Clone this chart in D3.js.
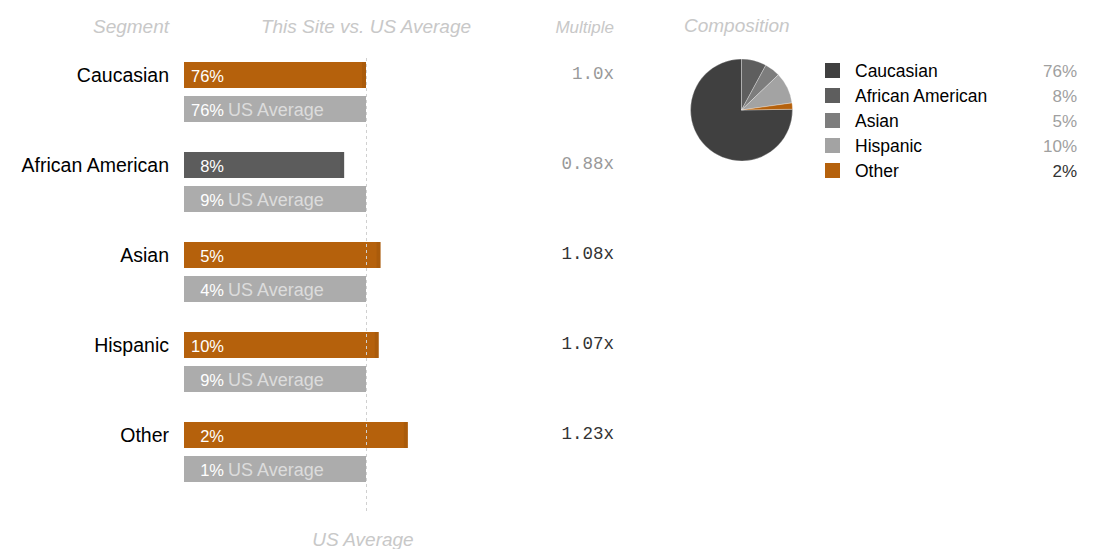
<!DOCTYPE html>
<html><head><meta charset="utf-8">
<script src="https://cdn.jsdelivr.net/npm/d3@7/dist/d3.min.js"></script>
<style>body{margin:0;background:#fff;} svg{display:block;font-family:"Liberation Sans",Arial,sans-serif;}</style>
</head><body>
<script>
const categories = ["Caucasian","African American","Asian","Hispanic","Other"];
const siteShare = [76, 8, 5, 10, 2];
const usShare = [76, 9, 4, 9, 1];
const multiples = [1.0, 0.88, 1.08, 1.07, 1.23];
const multipleLabels = ["1.0x","0.88x","1.08x","1.07x","1.23x"];
const pieColors = ["#404040","#5e5e5e","#7d7d7d","#a3a3a3","#b5610c"];

const W = 1096, H = 549;
const svg = d3.select("body").append("svg").attr("width", W).attr("height", H);

const x = d3.scaleLinear().domain([0, 1]).range([184, 366]);
const y = d3.scaleBand().domain(categories).range([50, 500]);

const hdr = "#c8c8c8";
function header(tx, ty, t, anchor, size) {
  svg.append("text").attr("x", tx).attr("y", ty).attr("text-anchor", anchor)
    .attr("font-style", "italic").attr("font-size", size).attr("fill", hdr).text(t);
}
header(169, 33, "Segment", "end", 19);
header(366, 33, "This Site vs. US Average", "middle", 19);
header(614, 33, "Multiple", "end", 17);
header(684, 32, "Composition", "start", 19);
header(363, 546, "US Average", "middle", 19);

const g = svg.append("g");
const rows = g.selectAll("g.row").data(categories).join("g").attr("class", "row");

rows.append("text").attr("x", 169).attr("y", d => y(d) + 25 + 7)
  .attr("text-anchor", "end").attr("font-size", 19.5).attr("fill", "#000").text(d => d);

rows.append("rect").attr("x", x(0)).attr("y", d => y(d) + 12)
  .attr("width", (d, i) => x(multiples[i]) - x(0)).attr("height", 26)
  .attr("fill", (d, i) => multiples[i] >= 1 ? "#b5610c" : "#5c5c5c");
rows.append("rect").attr("x", (d, i) => x(multiples[i]) - 4).attr("y", d => y(d) + 12)
  .attr("width", 4).attr("height", 26).attr("fill", "#000").attr("opacity", 0.06);

rows.append("rect").attr("x", x(0)).attr("y", d => y(d) + 46)
  .attr("width", x(1) - x(0)).attr("height", 26).attr("fill", "#acacac");

rows.append("text").attr("x", 224).attr("y", d => y(d) + 12 + 20)
  .attr("text-anchor", "end").attr("font-size", 16.5).attr("fill", "#fff")
  .text((d, i) => siteShare[i] + "%");
rows.append("text").attr("x", 224).attr("y", d => y(d) + 46 + 20)
  .attr("text-anchor", "end").attr("font-size", 16.5).attr("fill", "#fff")
  .text((d, i) => usShare[i] + "%");
rows.append("text").attr("x", 228).attr("y", d => y(d) + 46 + 20)
  .attr("font-size", 18).attr("fill", "#dcdcdc").text("US Average");

rows.append("text").attr("x", 614).attr("y", d => y(d) + 29)
  .attr("text-anchor", "end").attr("font-family", "'Liberation Mono','Courier New',monospace")
  .attr("font-size", 17.5).attr("fill", (d, i) => multiples[i] <= 1 ? "#999" : "#333")
  .text((d, i) => multipleLabels[i]);

svg.append("line").attr("x1", x(1) + 0.5).attr("x2", x(1) + 0.5).attr("y1", 58).attr("y2", 512)
  .attr("stroke", "#d0d0d0").attr("stroke-dasharray", "3,3");

// Pie
const cx = 741.5, cy = 110, r = 51;
const total = d3.sum(siteShare);
const pie = d3.pie().sort(null)
  .startAngle(-2 * Math.PI * siteShare[0] / total)
  .endAngle(2 * Math.PI - 2 * Math.PI * siteShare[0] / total);
const arc = d3.arc().innerRadius(0).outerRadius(r);
svg.append("g").attr("transform", `translate(${cx},${cy})`)
  .selectAll("path").data(pie(siteShare)).join("path")
  .attr("d", arc).attr("fill", (d, i) => pieColors[i])
  .attr("stroke", "#fff").attr("stroke-width", 0.6).attr("stroke-opacity", 0.5);

const leg = svg.append("g").selectAll("g").data(categories).join("g")
  .attr("transform", (d, i) => `translate(0,${70.5 + 25 * i})`);
leg.append("rect").attr("x", 825).attr("y", -7.5).attr("width", 15).attr("height", 15)
  .attr("fill", (d, i) => pieColors[i]);
leg.append("text").attr("x", 855).attr("y", 6).attr("font-size", 17.5).attr("fill", "#000").text(d => d);
leg.append("text").attr("x", 1077).attr("y", 6).attr("text-anchor", "end").attr("font-size", 17)
  .attr("fill", (d, i) => i === categories.length - 1 ? "#333" : "#a0a0a0")
  .text((d, i) => siteShare[i] + "%");
</script>
</body></html>
